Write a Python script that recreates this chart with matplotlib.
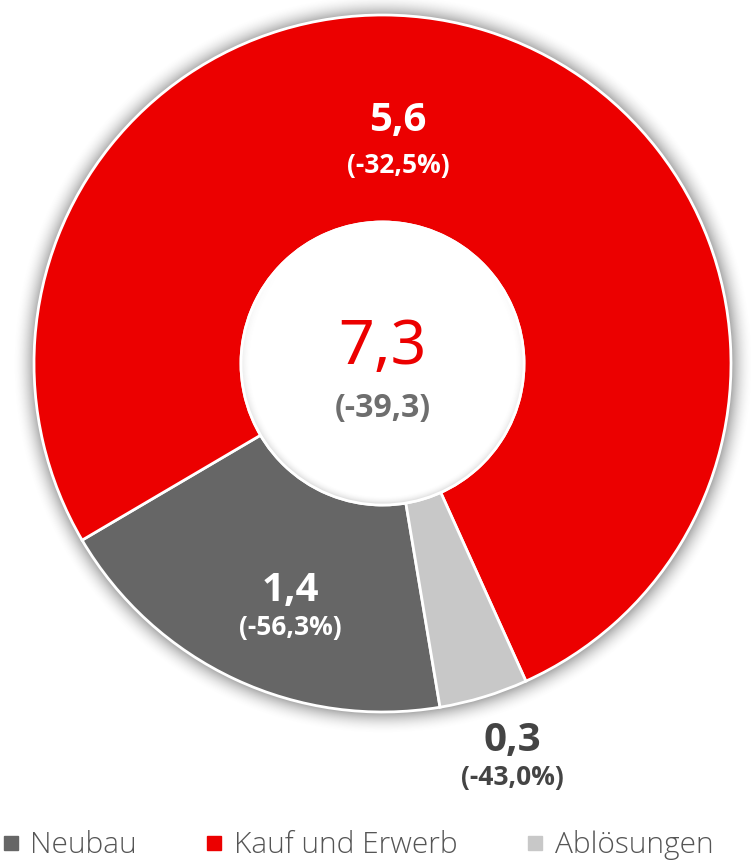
import matplotlib
matplotlib.use("Agg")

import matplotlib.pyplot as plt
import numpy as np
from matplotlib.lines import Line2D


categories = ["Neubau", "Kauf und Erwerb", "Ablösungen"]
values = [1.4, 5.6, 0.3]
changes = ["(-56,3%)", "(-32,5%)", "(-43,0%)"]
total_label = "7,3"
total_change = "(-39,3)"

colors = ["#666666", "#EC0000", "#C8C8C8"]

plt.rcParams["font.family"] = ["Open Sans", "DejaVu Sans"]

W, H = 751, 865
fig = plt.figure(figsize=(W / 100, H / 100), dpi=100)
ax = fig.add_axes([0, 0, 1, 1])

# donut geometry in pixel units (y pointing up)
cx, cy = 382.5, H - 363.5
R = 348.5
r_in = 141.5

# soft glow around the ring
yy, xx = np.mgrid[0:H, 0:W]
yy = H - yy
dist = np.hypot(xx - cx, yy - cy)
glow = np.clip(1 - (dist - R) / 22, 0, 1) ** 2 * 0.55
glow[dist < R] = 0
# shading just inside the hole, stronger towards the bottom
inner = np.clip(1 - (r_in - dist) / 10, 0, 1) ** 2 * 0.30
ang_w = np.clip(0.4 + 0.6 * (cy - yy) / r_in, 0, 1)
inner = inner * ang_w
inner[dist > r_in] = 0
rgba = np.zeros((H, W, 4))
rgba[..., :3] = 0.35
rgba[..., 3] = glow

ax.imshow(rgba, extent=(0, W, 0, H), origin="upper", zorder=0)

ax.pie(values, colors=colors, startangle=-80.5, counterclock=False,
       center=(cx, cy), radius=R,
       wedgeprops=dict(width=R - r_in, edgecolor="white", linewidth=2.0))

hole = np.zeros((H, W, 4))
hole[..., :3] = 0.35
hole[..., 3] = inner
ax.imshow(hole, extent=(0, W, 0, H), origin="upper", zorder=3)

circ = plt.Circle((cx, cy), r_in, facecolor="none", edgecolor="white",
                  linewidth=2.0, zorder=4)
ax.add_patch(circ)

ax.set_xlim(0, W)
ax.set_ylim(0, H)
ax.set_aspect("equal")
ax.axis("off")

# segment labels
label_pos = [(290, 590, 628), (398, 120, 165), (512, 740, 778)]
label_col = ["white", "white", "#444444"]
for (x, y1, y2), val, chg, c in zip(label_pos, values, changes, label_col):
    ax.text(x, H - y1, f"{val:.1f}".replace(".", ","), ha="center", va="center",
            fontsize=29, fontweight="bold", color=c, zorder=5)
    ax.text(x, H - y2, chg, ha="center", va="center",
            fontsize=19, fontweight="bold", color=c, zorder=5)

ax.text(cx, H - 348, total_label, ha="center", va="center",
        fontsize=45, family=["Noto Sans", "DejaVu Sans"], fontweight="semibold",
        color="#EC0000", zorder=5)
ax.text(cx, H - 408, total_change, ha="center", va="center",
        fontsize=23, fontweight="bold", color="#6E6E6E", zorder=5)

handles = [Line2D([], [], marker="s", linestyle="none", markersize=10,
                  markerfacecolor=c, markeredgecolor=c) for c in colors]
fig.legend(handles, categories, loc="center", bbox_to_anchor=(0.474, 1 - 845 / H),
           ncol=3, frameon=False, handletextpad=0.25, columnspacing=2.2,
           handlelength=0.8,
           prop={"family": ["Open Sans", "DejaVu Sans"], "size": 21.5,
                 "weight": "light"},
           labelcolor="#555555")

fig.savefig("out.png", dpi=100)
